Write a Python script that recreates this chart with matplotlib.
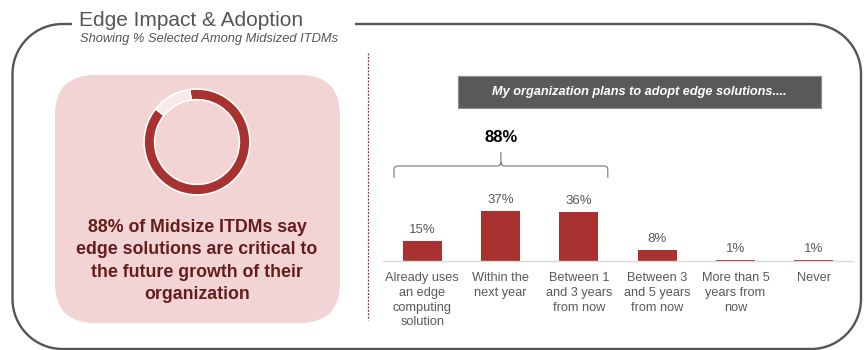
import numpy as np
import matplotlib
matplotlib.use('Agg')
import matplotlib.pyplot as plt
from matplotlib.patches import FancyBboxPatch, PathPatch, Rectangle
from matplotlib.path import Path
from matplotlib.transforms import blended_transform_factory

plt.rcParams['font.family'] = ['Liberation Sans', 'DejaVu Sans']

# ─── data ────────────────────────────────────────────────────────────────────
categories = [
    'Already uses\nan edge\ncomputing\nsolution',
    'Within the\nnext year',
    'Between 1\nand 3 years\nfrom now',
    'Between 3\nand 5 years\nfrom now',
    'More than 5\nyears from\nnow',
    'Never',
]
adoption_pct = [15, 37, 36, 8, 1, 1]
critical_pct = 88
brace_group = [0, 1, 2]   # bars summed under the bracket

title = 'Edge Impact & Adoption'
subtitle = 'Showing % Selected Among Midsized ITDMs'
banner = 'My organization plans to adopt edge solutions....'
callout = (f'{critical_pct}% of Midsize ITDMs say\n'
           'edge solutions are critical to\n'
           'the future growth of their\n'
           'organization')

# ─── styles ──────────────────────────────────────────────────────────────────
RED = '#A83230'
PINK = '#F2D4D4'
PALE = '#F9EAEA'
GRAY = '#555555'
TXT = '#595959'
MAROON = '#651C1C'

W, H = 868, 350
fig = plt.figure(figsize=(W / 100, H / 100), dpi=100)


def px_axes(x0, y0, x1, y1):
    """axes from a pixel box measured from the top-left corner"""
    return fig.add_axes([x0 / W, 1 - y1 / H, (x1 - x0) / W, (y1 - y0) / H])


def frame_path(l, t, r, b, rad, gap_from, gap_to):
    """rounded outline, left open along the top between gap_from and gap_to"""
    k = 0.5523 * rad
    C, L = Path.CURVE4, Path.LINETO
    verts = [(gap_from, t), (l + rad, t),
             (l + rad - k, t), (l, t + rad - k), (l, t + rad),
             (l, b - rad),
             (l, b - rad + k), (l + rad - k, b), (l + rad, b),
             (r - rad, b),
             (r - rad + k, b), (r, b - rad + k), (r, b - rad),
             (r, t + rad),
             (r, t + rad - k), (r - rad + k, t), (r - rad, t),
             (gap_to, t)]
    codes = [Path.MOVETO, L, C, C, C, L, C, C, C, L, C, C, C, L, C, C, C, L]
    return Path(verts, codes)


# ── background layer in pixel units ──────────────────────────────────────────
bg = px_axes(0, 0, W, H)
bg.set_xlim(0, W)
bg.set_ylim(H, 0)
bg.axis('off')

bg.add_patch(PathPatch(frame_path(12.5, 24, 861, 349, 50, 72, 355),
                       facecolor='none', edgecolor=GRAY, lw=1.7))
bg.text(79, 26, title, fontsize=15, color=GRAY, va='baseline')
bg.text(80, 42, subtitle, fontsize=9.3, color=GRAY, style='italic', va='baseline')

# left callout card
bg.add_patch(FancyBboxPatch((55, 75), 285, 248,
                            boxstyle='round,pad=0,rounding_size=40',
                            facecolor=PINK, edgecolor='none'))
bg.text(197, 261, callout, fontsize=12.8, fontweight='bold', color=MAROON,
        ha='center', va='center', linespacing=1.4)

# dotted divider
bg.plot([368, 368], [53, 320], color='#8B3030', lw=0.9, ls=(0, (1.5, 1.2)))

# question banner
bg.add_patch(Rectangle((458, 76), 363, 32, facecolor='#59595B',
                       edgecolor='#8C8C8C', lw=0.8))
bg.text(639.5, 92.5, banner, fontsize=9.2, fontweight='bold', style='italic',
        color='white', ha='center', va='center')

# ── donut ────────────────────────────────────────────────────────────────────
ax_d = px_axes(143, 88, 251, 196)
ax_d.pie([critical_pct, 100 - critical_pct], colors=[RED, PALE],
         startangle=98, counterclock=False, radius=1,
         wedgeprops=dict(width=0.2, edgecolor='white', linewidth=1.2))
ax_d.set_xlim(-1.02, 1.02)
ax_d.set_ylim(-1.02, 1.02)
ax_d.set_aspect('equal')
ax_d.axis('off')

# ── bar chart ────────────────────────────────────────────────────────────────
ax = px_axes(383, 150, 853, 261)
x = np.arange(len(categories))
bars = ax.bar(x, adoption_pct, width=0.5, color=RED)
ax.set_xlim(-0.5, len(categories) - 0.5)
ax.set_ylim(0, 81.6)
for s in ['top', 'right', 'left']:
    ax.spines[s].set_visible(False)
ax.spines['bottom'].set_color('#DADADA')
ax.spines['bottom'].set_linewidth(1)
ax.set_yticks([])
ax.set_xticks(x)
ax.set_xticklabels(categories, fontsize=9.2, color=TXT, linespacing=1.3)
ax.tick_params(axis='x', length=0, pad=8)
ax.patch.set_alpha(0)

for xi, v in zip(x, adoption_pct):
    ax.annotate(f'{v}%', (xi, v), xytext=(0, 3.5), textcoords='offset points',
                ha='center', va='bottom', fontsize=9.5, color=TXT)

# bracket over the near-term adopters
blend = blended_transform_factory(ax.transData, ax.transAxes)
x0 = min(brace_group) - 0.36
x1 = max(brace_group) + 0.37
xc = (x0 + x1) / 2
y_lo, y_h, y_top = 0.748, 0.856, 0.982
dx, dy = 0.05, 0.036
C3, L = Path.CURVE3, Path.LINETO
brace = Path(
    [(x0, y_lo), (x0, y_h - dy), (x0, y_h), (x0 + dx, y_h),
     (xc - dx, y_h), (xc, y_h), (xc, y_h + dy), (xc, y_top),
     (xc, y_h + dy), (xc, y_h), (xc + dx, y_h),
     (x1 - dx, y_h), (x1, y_h), (x1, y_h - dy), (x1, y_lo)],
    [Path.MOVETO, L, C3, C3, L, C3, C3, L,
     Path.MOVETO, C3, C3, L, C3, C3, L])
ax.add_patch(PathPatch(brace, transform=blend, facecolor='none',
                       edgecolor='#777777', lw=0.8, clip_on=False))
group_total = sum(adoption_pct[i] for i in brace_group)
ax.text(xc, 1.117, f'{group_total}%', transform=blend, ha='center', va='center',
        fontsize=12, fontweight='bold', color='black')

fig.savefig('out.png', dpi=100)
